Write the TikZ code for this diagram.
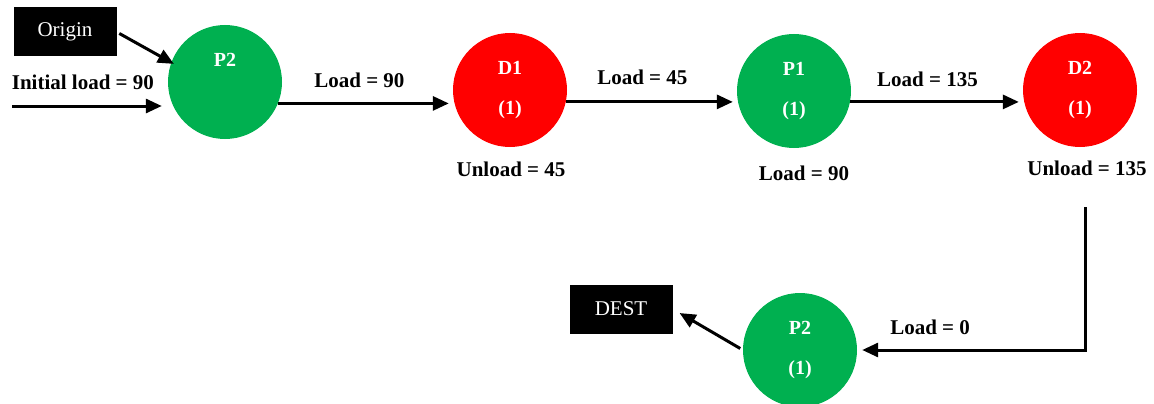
\documentclass[tikz,border=0pt]{standalone}
\usepackage{fontspec}
\setmainfont{Liberation Serif}
\usetikzlibrary{arrows.meta}
\definecolor{pgreen}{HTML}{00B050}
\definecolor{dred}{HTML}{FF0000}
\begin{document}
\begin{tikzpicture}[x=1pt, y=-1pt,
		font=\bfseries\fontsize{21}{23}\selectfont,
		stop/.style={circle, minimum size=114pt, inner sep=0pt, text=white, align=center, font=\bfseries\fontsize{20}{22}\selectfont},
		pick/.style={stop, fill=pgreen},
		drop/.style={stop, fill=dred},
		endbox/.style={fill=black, text=white, font=\fontsize{21}{23}\selectfont, minimum width=103pt, minimum height=49pt, inner sep=0pt},
		flow/.style={line width=3pt, -{Triangle[length=16pt,width=14pt]}}]
		\useasboundingbox (0,0) rectangle (1154,404);
		% stops
		\node[pick] (p2a) at (225,82) {P2\\[18pt]\phantom{(1)}};
		\node[drop] (d1) at (510,90) {D1\\[18pt](1)};
		\node[pick] (p1) at (794,91) {P1\\[18pt](1)};
		\node[drop] (d2) at (1080,90) {D2\\[18pt](1)};
		\node[pick] (p2b) at (800,350) {P2\\[18pt](1)};
		\node[endbox] (origin) at (65,32) {Origin};
		\node[endbox] (dest) at (621,309) {DEST};
		\coordinate (init) at (12,106);
		\coordinate (turn) at (1085,207);
		% loads
		\draw[flow, shorten >=6pt] (init) -- (init -| p2a.west) node[midway, above=11pt, xshift=-7pt] (initlbl) {Initial load = 90};
		\draw[flow, shorten <=3pt, shorten >=-3pt] (origin.east) -- (p2a.160);
		\draw[flow, shorten >=4pt] (p2a.-22) -- (d1.west |- p2a.-22) node[midway, above=11pt, xshift=-6pt] (l1) {Load = 90};
		\draw[flow, shorten >=4pt] (d1.-12) -- (p1.west |- d1.-12) node[midway, above=12pt, xshift=-9pt] (l2) {Load = 45};
		\draw[flow, shorten >=4pt] (p1.-11) -- (d2.west |- p1.-11) node[midway, above=10pt, xshift=-9pt] (l3) {Load = 135};
		\draw[flow, shorten >=5pt] (turn) |- (p2b.east) node[pos=0.84, above=10pt] (l4) {Load = 0};
		\draw[flow, shorten <=3pt, shorten >=8pt] (p2b.west) -- (dest.east);
		% unloads
		\node (u1) at (511,169) {Unload = 45};
		\node (u2) at (804,173) {Load = 90};
		\node (u3) at (1087,168) {Unload = 135};
	\end{tikzpicture}
\end{document}
